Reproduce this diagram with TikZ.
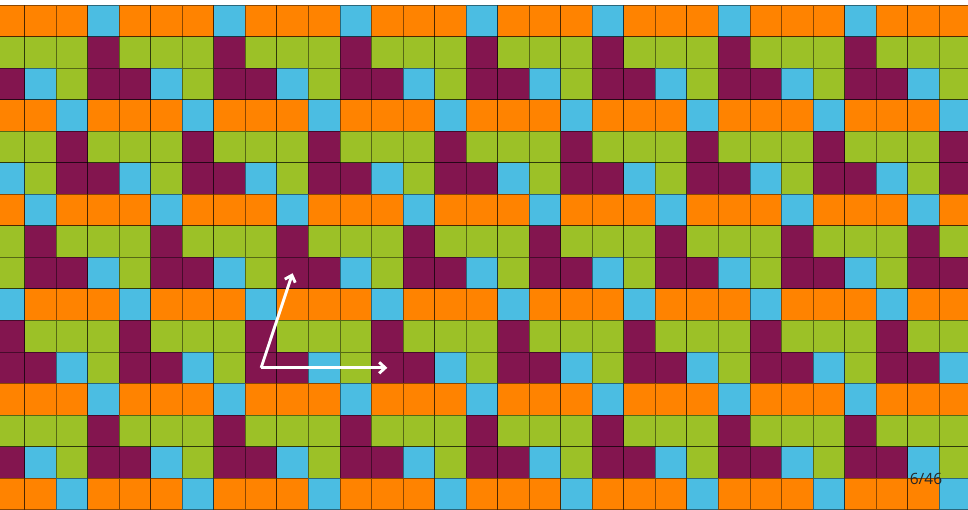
\documentclass[tikz,border=0pt]{standalone}
\usepackage{fontspec}
\setmainfont{Open Sans}
\usetikzlibrary{arrows.meta}
\definecolor{cO}{HTML}{FF8300}
\definecolor{cG}{HTML}{9CC127}
\definecolor{cP}{HTML}{83154F}
\definecolor{cB}{HTML}{4BBDE2}
\tikzset{
  cell/.style={fill=#1, draw=black, draw opacity=0.45, line width=0.8pt},
  vec/.style={draw=white, line width=2.9pt, -{Straight Barb[length=6pt,width=11pt]}},
  pagenum/.style={text=black!85, font=\fontsize{15.5}{16}\selectfont, inner sep=0pt}
}
\begin{document}
\begin{tikzpicture}[x=1pt,y=-1pt]
\fill[white] (0,0) rectangle (968,510);
\useasboundingbox (0,0) rectangle (968,510);
\begin{scope}
\clip (0,0) rectangle (968,510);
\foreach \r in {0,...,15}{
  \foreach \c in {0,...,30}{
    \pgfmathtruncatemacro{\g}{int(\r/3)}
    \pgfmathtruncatemacro{\k}{mod(3-mod(\g,4)+4,4)}
    \pgfmathtruncatemacro{\t}{mod(\r,3)}
    \pgfmathtruncatemacro{\d}{mod(\c-\k+40,4)}
    \pgfmathtruncatemacro{\code}{\t*4+\d}
    \pgfmathsetmacro{\col}{{"cB","cO","cO","cO","cP","cG","cG","cG","cP","cP","cB","cG"}[\code]}
    \pgfmathsetmacro{\xa}{24.5+(\c-1)*31.54}
    \pgfmathsetmacro{\ya}{5+\r*31.54}
    \path[cell=\col] (\xa,\ya) rectangle ++(31.54,31.54);
  }
}
\end{scope}
\coordinate (o) at (261.1,367.8);
\coordinate (e1) at (387.3,367.8);
\coordinate (e2) at (292.6,273.2);
\draw[vec] (o) -- (e1);
\draw[vec] (o) -- (e2);
\node[pagenum, anchor=center] (pg) at (926,479) {6/46};
\end{tikzpicture}
\end{document}
